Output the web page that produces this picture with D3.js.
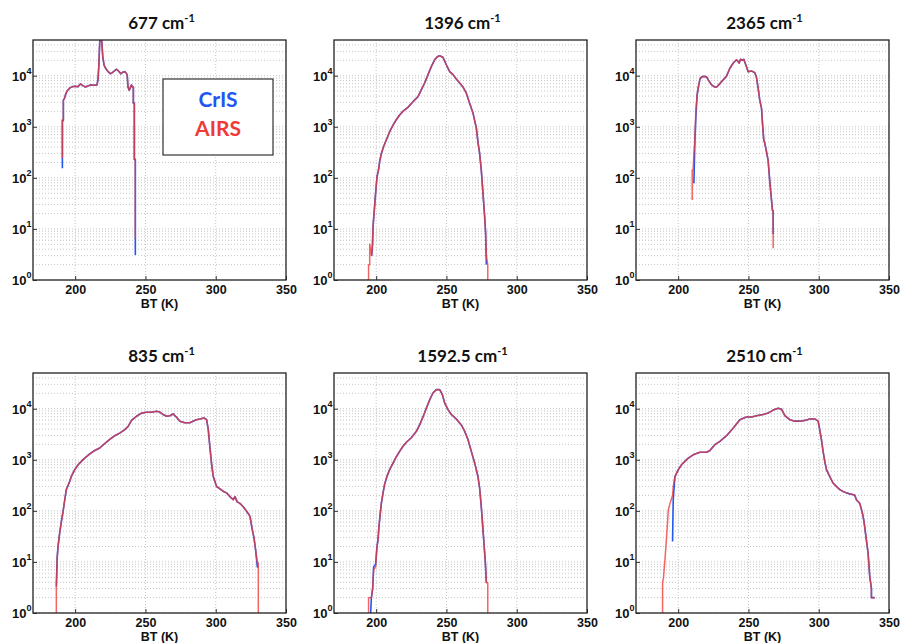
<!DOCTYPE html>
<html><head><meta charset="utf-8">
<script src="https://cdn.jsdelivr.net/npm/d3@7"></script>
<style>body{margin:0;background:#fff}svg{display:block}</style>
</head><body>
<svg id="c" width="901" height="643"></svg>
<script>
// ---------- data ----------
const titles = ["677", "1396", "2365", "835", "1592.5", "2510"];
const xTicks = [200, 250, 300, 350];
const yTicks = [1, 10, 100, 1000, 10000];
const legendLabels = ["CrIS", "AIRS"];

const bt677   = [190.9,190.9,191.6,191.6,192.4,193.2,194.2,196,198,200,202,203.7,205.5,207.3,209,211,213,215.5,216.2,216.8,217.5,218.2,219,219.6,220.6,222,223.5,225,226.5,228,229.5,231,232.5,234,235.5,237,237.6,238.4,239,240,240.8,241.4,241.4,242.1,242.1,242.8,242.8];
const cris677 = [154,1320,1320,3330,3600,4300,5000,5700,6100,6200,6100,6900,6400,6000,6300,6600,6500,6600,8200,15000,48000,60000,45000,24000,16000,13500,12000,10900,11500,12500,13400,12200,10900,11800,12000,10500,6000,5200,5600,6600,6000,6000,2900,2900,230,230,3.1];
const airs677 = [241,1380,1380,3330,3600,4300,5000,5700,6100,6200,6100,6900,6400,6000,6300,6600,6500,6600,8200,15000,48000,60000,45000,24000,16000,13500,12000,10900,11500,12500,13400,12200,10900,11800,12000,10500,6000,5200,5600,6600,6000,6000,2900,2900,230,230,6.5];

const bt1396   = [194.6,194.6,195.4,195.4,196.8,197.4,197.7,198.2,199,199.6,200.6,201.8,202.5,203.7,205.3,207.2,209.6,212,214.3,216.7,219,222.6,226.2,229.8,232.1,234.5,236.9,239.2,241.6,243.5,245.2,247.5,249.9,252.3,254.7,257,259.4,261.8,264.1,266.5,268.9,271.3,272.5,273.6,274.8,276,277.2,277.9,278.4,279.4,279.4];
const cris1396 = [null,null,null,null,3,5,10,16,30,50,105,150,210,300,410,550,800,1080,1370,1700,2000,2400,3100,3900,5300,7200,10500,15000,20500,23500,24500,23000,16400,12000,10500,8600,7200,6000,4600,2900,1850,930,480,300,140,50,17,8,2,null,null];
const airs1396 = [0.5,2,2,5,3,5,10,16,30,50,105,150,210,300,410,550,800,1080,1370,1700,2000,2400,3100,3900,5300,7200,10500,15000,20500,23500,24500,23000,16400,12000,10500,8600,7200,6000,4600,2900,1850,930,480,300,140,50,17,8,3,2,0.5];

const bt2365   = [210,210,210.6,211.2,211.9,212.6,213.5,214.5,215.5,216.7,218.5,220.2,221.4,223.8,226,227.4,229.7,232.1,234.4,236.8,239.2,241.5,243.4,244.4,245.8,246.7,248.6,249.8,252.2,254.5,255.7,256.9,258,259.3,260,260.9,261.6,262.8,264,265.2,266.4,267.1,267.6,267.6];
const cris2365 = [null,null,null,78,550,1600,4200,6300,8600,9500,9700,9500,8300,6600,6000,6000,7000,8300,9800,14000,17700,20500,17700,21000,20000,21000,15000,12000,12400,11500,9300,5700,3400,2300,1160,550,480,330,220,84,37,23,23,8];
const airs2365 = [37,143,143,300,550,2150,4200,6300,8600,9500,9700,9500,8300,6600,6000,6000,7000,8300,9800,14000,17700,20500,17700,21000,20000,21000,15000,12000,12400,11500,9300,5700,3400,2300,1160,550,480,330,220,84,37,23,23,4.2];

const bt835   = [186.6,186.6,187.2,187.8,189,190.2,191.4,192.6,193.7,196.1,197.3,199.7,202.1,204.4,206.8,210.4,213.9,217.5,221,224.6,228.2,231.7,235.3,237.7,240.1,243.6,247.2,250.7,254.3,257.9,260.2,262.6,265,267.4,269.7,272.1,274.5,278,281.6,283.9,286.3,288.7,291.6,293.5,294.7,295.8,297,298.2,300.6,303,305.4,307.7,310.1,312.5,313.7,315.3,317.2,319.6,322,324.4,326,327.2,328.4,329.6,330.3,330.3];
const cris835 = [null,3.3,12,20,37,62,98,165,260,375,475,640,800,930,1080,1300,1520,1700,2080,2500,2960,3330,3900,4500,5900,7100,8200,8500,8500,8900,8600,7700,7100,7300,7900,6800,5700,5300,5300,5700,6100,6300,6600,6100,3900,1840,860,475,300,270,240,225,190,165,190,150,140,120,98,78,43,30,17,8,8,null];
const airs835 = [0.5,3.3,12,20,37,62,98,165,260,375,475,640,800,930,1080,1300,1520,1700,2080,2500,2960,3330,3900,4500,5900,7100,8200,8500,8500,8900,8600,7700,7100,7300,7900,6800,5700,5300,5300,5700,6100,6300,6600,6100,3900,1840,860,475,300,270,240,225,190,165,190,150,140,120,98,78,43,30,17,9.5,9.5,0.5];

const bt1592   = [194.6,194.6,195.6,196.6,197.5,198.2,199.6,200.6,201.3,202,202.7,203.7,204.9,206,207.7,209.6,212,214.3,216.7,219.1,221.5,225,228.6,230.9,233.3,235.7,238.1,240.4,242.8,245.2,247.1,248.7,251.1,253.5,257,260.6,263,265.3,267.7,270.1,272.4,273.6,274.8,276,276.7,277.7,278.4,279.4,279.4];
const cris1592 = [null,null,0.5,2,3,8,9,20,27,50,78,142,225,330,475,640,860,1140,1460,1840,2200,2700,3600,4800,6900,10200,15000,20300,23600,23600,18900,13000,9600,7700,6300,4800,3600,2500,1460,860,475,280,120,43,23,9.5,3.9,null,null];
const airs1592 = [0.5,2,2,2,3,7,8,20,27,50,78,142,225,330,475,640,860,1140,1460,1840,2200,2700,3600,4800,6900,10200,15000,20300,23600,23600,18900,13000,9600,7700,6300,4800,3600,2500,1460,860,475,280,120,43,23,9.5,3.9,3.9,0.5];

const bt2510   = [188.9,188.9,189.6,190.6,191.8,193,194.2,195.2,196,196.5,197.7,200.1,202.4,204.8,207.2,210.7,215.5,220.2,222.6,226.1,229.7,234.4,239.2,243.9,248.6,252.2,255.7,260.5,264,267.6,271.1,273.5,275.9,279.4,283,286.5,290.1,293.6,297.2,299.6,300.7,301.9,303.1,304.3,305.5,307.8,310.2,312.6,315,317.3,319.7,322,325.6,326.8,329.2,331.1,332.2,333.9,335.1,336.3,337.5,337.5,339.8];
const cris2510 = [null,null,null,null,null,null,null,null,25,170,470,640,800,930,1080,1250,1400,1400,1520,1980,2300,2960,4200,6100,6900,6900,7300,7700,8200,9400,10200,9800,7300,6100,5700,5700,5900,6300,6300,5700,3900,2500,1460,930,640,475,350,300,260,240,225,215,205,165,140,90,62,27,15,5.2,3,2,2];
const airs2510 = [0.5,3.9,5,11,32,105,140,170,200,300,470,640,800,930,1080,1250,1400,1400,1520,1980,2300,2960,4200,6100,6900,6900,7300,7700,8200,9400,10200,9800,7300,6100,5700,5700,5900,6300,6300,5700,3900,2500,1460,930,640,475,350,300,260,240,225,215,205,165,140,90,62,27,15,5.2,3,2,2];

const panelData = [
  [bt677, cris677, airs677], [bt1396, cris1396, airs1396], [bt2365, cris2365, airs2365],
  [bt835, cris835, airs835], [bt1592, cris1592, airs1592], [bt2510, cris2510, airs2510]
];

// ---------- layout ----------
const svg = d3.select("#c");
const W = 253, H = 240;
const lefts = [33, 334, 636], tops = [40, 373];
const blue = "#2256f2", red = "#f03a36";
const x = d3.scaleLinear().domain([170, 350]).range([0, W]);
const y = d3.scaleLog().domain([1, 5e4]).range([H, 0]);
const tickFont = "'Liberation Sans', Arial, sans-serif";

const gridY = [];
for (let d = 0; d <= 4; d++) for (let k = 1; k <= 9; k++) { const v = k * Math.pow(10, d); if (v < 5e4) gridY.push(v); }

panelData.forEach((pd, i) => {
  const g = svg.append("g").attr("transform", `translate(${lefts[i % 3]},${tops[Math.floor(i / 3)]})`);
  g.append("defs").append("clipPath").attr("id", "clip" + i)
    .append("rect").attr("width", W).attr("height", H);

  // grid
  g.append("g").selectAll("line").data(gridY).join("line")
    .attr("x1", 0).attr("x2", W).attr("y1", d => y(d)).attr("y2", d => y(d))
    .attr("stroke", "#b8b8b8").attr("stroke-width", 0.8).attr("stroke-dasharray", "1,2");
  g.append("g").selectAll("line").data(xTicks.slice(0, 3)).join("line")
    .attr("y1", 0).attr("y2", H).attr("x1", d => x(d)).attr("x2", d => x(d))
    .attr("stroke", "#b8b8b8").attr("stroke-width", 0.8).attr("stroke-dasharray", "1,2");

  // curves
  const [bt, cris, airs] = pd;
  const mk = vals => bt.map((b, j) => ({ b, v: vals[j] }));
  const line = d3.line().defined(d => d.v != null).x(d => x(d.b)).y(d => y(Math.max(d.v, 0.05)));
  const cg = g.append("g").attr("clip-path", `url(#clip${i})`);
  cg.append("path").attr("d", line(mk(cris))).attr("fill", "none").attr("stroke", blue).attr("stroke-width", 1.6).attr("stroke-linejoin", "round");
  cg.append("path").attr("d", line(mk(airs))).attr("fill", "none").attr("stroke", red).attr("stroke-width", 1.5).attr("stroke-opacity", 0.78).attr("stroke-linejoin", "round");

  // axes
  const ya = g.append("g").call(d3.axisLeft(y).tickValues(yTicks).tickSize(-4).tickPadding(2).tickFormat(""));
  ya.select(".domain").remove();
  ya.selectAll(".tick line").attr("stroke", "#333");
  ya.selectAll(".tick text").remove();
  ya.selectAll(".tick").append("text")
    .attr("x", -1.5).attr("text-anchor", "end")
    .attr("font-family", tickFont).attr("font-weight", "bold").attr("font-size", 13).attr("fill", "#111")
    .each(function (d) {
      const t = d3.select(this);
      t.append("tspan").text("10").attr("dy", "0.35em");
      t.append("tspan").text(Math.round(Math.log10(d))).attr("font-size", 9).attr("dy", "-0.75em");
    });
  const xa = g.append("g").attr("transform", `translate(0,${H})`)
    .call(d3.axisBottom(x).tickValues(xTicks).tickSize(-4).tickPadding(5.4));
  xa.select(".domain").remove();
  xa.selectAll(".tick line").attr("stroke", "#333");
  xa.selectAll(".tick text").attr("font-family", tickFont)
    .attr("font-weight", "bold").attr("font-size", 12.5).attr("fill", "#111");

  // frame
  g.append("rect").attr("width", W).attr("height", H).attr("fill", "none").attr("stroke", "#222").attr("stroke-width", 1.3);

  // x label
  g.append("text").attr("x", W / 2).attr("y", H + 28).attr("text-anchor", "middle")
    .attr("font-family", tickFont).attr("font-weight", "bold").attr("font-size", 12.5).attr("fill", "#111")
    .text("BT (K)");

  // title
  const t = g.append("text").attr("x", W / 2 + 2).attr("y", -11).attr("text-anchor", "middle")
    .attr("font-family", "Lato, 'Open Sans', sans-serif").attr("font-weight", "bold").attr("font-size", 17).attr("fill", "#111");
  t.append("tspan").text(titles[i] + " cm");
  t.append("tspan").text("-1").attr("font-size", 11).attr("dy", "-0.65em");

  if (i === 0) {
    const lg = g.append("g");
    lg.append("rect").attr("x", 130).attr("y", 39).attr("width", 110).attr("height", 76)
      .attr("fill", "#fff").attr("stroke", "#333").attr("stroke-width", 1.2);
    lg.append("text").attr("x", 185).attr("y", 67).attr("text-anchor", "middle")
      .attr("font-family", "Lato, sans-serif").attr("font-weight", "bold").attr("font-size", 21).attr("fill", blue).text(legendLabels[0]);
    lg.append("text").attr("x", 185).attr("y", 96).attr("text-anchor", "middle")
      .attr("font-family", "Lato, sans-serif").attr("font-weight", "bold").attr("font-size", 21).attr("fill", red).text(legendLabels[1]);
  }
});
</script>
</body></html>
